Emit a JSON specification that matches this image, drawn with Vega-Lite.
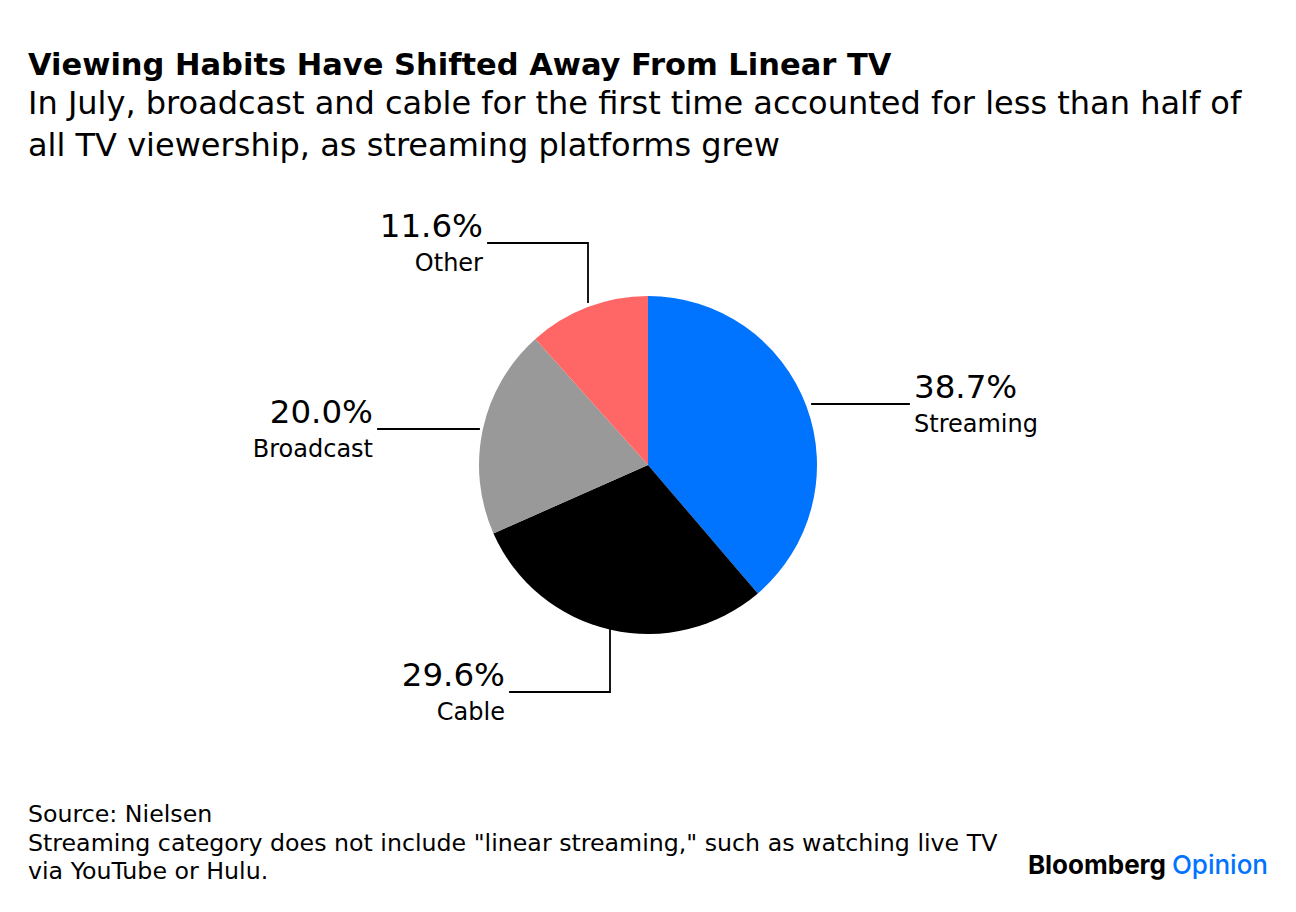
{
  "$schema": "https://vega.github.io/schema/vega-lite/v6.json",
  "width": 1240,
  "height": 722,
  "autosize": {"type": "none"},
  "padding": {"left": 28, "right": 28, "top": 190, "bottom": 0},
  "background": "white",
  "config": {"view": {"stroke": null}, "font": "DejaVu Sans"},
  "title": {
    "text": "Viewing Habits Have Shifted Away From Linear TV",
    "subtitle": ["In July, broadcast and cable for the first time accounted for less than half of", "all TV viewership, as streaming platforms grew"],
    "anchor": "start",
    "frame": "group",
    "font": "DejaVu Sans",
    "fontSize": 30.5,
    "fontWeight": "bold",
    "color": "#000000",
    "subtitleFont": "DejaVu Sans",
    "subtitleFontSize": 32,
    "subtitleColor": "#000000",
    "subtitleLineHeight": 42,
    "subtitlePadding": 8,
    "offset": 28
  },
  "datasets": {
    "shares": [
      {"category": "Streaming", "rank": 1, "share": 0.387},
      {"category": "Cable", "rank": 2, "share": 0.296},
      {"category": "Broadcast", "rank": 3, "share": 0.2},
      {"category": "Other", "rank": 4, "share": 0.116}
    ],
    "leaders": [
      {"category": "Streaming", "step": 1, "x": 164, "y": -61},
      {"category": "Streaming", "step": 2, "x": 261, "y": -61},
      {"category": "Broadcast", "step": 1, "x": -169, "y": -36},
      {"category": "Broadcast", "step": 2, "x": -270, "y": -36},
      {"category": "Cable", "step": 1, "x": -38, "y": 165},
      {"category": "Cable", "step": 2, "x": -38, "y": 227},
      {"category": "Cable", "step": 3, "x": -138, "y": 227},
      {"category": "Other", "step": 1, "x": -60, "y": -163},
      {"category": "Other", "step": 2, "x": -60, "y": -222},
      {"category": "Other", "step": 3, "x": -160, "y": -222}
    ],
    "labels": [
      {"category": "Streaming", "share": 0.387, "side": "right", "x": 261, "y": -61},
      {"category": "Broadcast", "share": 0.2, "side": "left", "x": -270, "y": -36},
      {"category": "Cable", "share": 0.296, "side": "left", "x": -138, "y": 227},
      {"category": "Other", "share": 0.116, "side": "left", "x": -160, "y": -222}
    ]
  },
  "layer": [
    {
      "data": {"name": "shares"},
      "mark": {"type": "arc", "outerRadius": 169, "stroke": null},
      "encoding": {
        "x": {"datum": 0, "type": "quantitative", "scale": {"domain": [-620, 620], "nice": false, "zero": false}, "axis": null},
        "y": {"datum": 0, "type": "quantitative", "scale": {"domain": [-275, 447], "nice": false, "zero": false, "reverse": true}, "axis": null},
        "theta": {"field": "share", "type": "quantitative", "stack": true},
        "order": {"field": "rank", "type": "quantitative"},
        "color": {
          "field": "category",
          "type": "nominal",
          "scale": {"domain": ["Streaming", "Cable", "Broadcast", "Other"], "range": ["#0073FF", "#000000", "#999999", "#FF6666"]},
          "legend": null
        }
      }
    },
    {
      "data": {"name": "leaders"},
      "mark": {"type": "line", "color": "#000000", "strokeWidth": 1.8, "strokeCap": "square"},
      "encoding": {
        "x": {"field": "x", "type": "quantitative", "scale": {"domain": [-620, 620], "nice": false, "zero": false}, "axis": null},
        "y": {"field": "y", "type": "quantitative", "scale": {"domain": [-275, 447], "nice": false, "zero": false, "reverse": true}, "axis": null},
        "detail": {"field": "category", "type": "nominal"},
        "order": {"field": "step", "type": "quantitative"}
      }
    },
    {
      "data": {"name": "labels"},
      "transform": [{"filter": "datum.side == 'right'"}],
      "mark": {"type": "text", "align": "left", "baseline": "alphabetic", "dx": 5, "dy": -6, "fontSize": 32.5, "color": "#000000"},
      "encoding": {
        "x": {"field": "x", "type": "quantitative", "scale": {"domain": [-620, 620], "nice": false, "zero": false}, "axis": null},
        "y": {"field": "y", "type": "quantitative", "scale": {"domain": [-275, 447], "nice": false, "zero": false, "reverse": true}, "axis": null},
        "text": {"field": "share", "type": "quantitative", "format": ".1%"}
      }
    },
    {
      "data": {"name": "labels"},
      "transform": [{"filter": "datum.side == 'right'"}],
      "mark": {"type": "text", "align": "left", "baseline": "alphabetic", "dx": 5, "dy": 28, "fontSize": 24, "color": "#000000"},
      "encoding": {
        "x": {"field": "x", "type": "quantitative", "scale": {"domain": [-620, 620], "nice": false, "zero": false}, "axis": null},
        "y": {"field": "y", "type": "quantitative", "scale": {"domain": [-275, 447], "nice": false, "zero": false, "reverse": true}, "axis": null},
        "text": {"field": "category", "type": "nominal"}
      }
    },
    {
      "data": {"name": "labels"},
      "transform": [{"filter": "datum.side == 'left'"}],
      "mark": {"type": "text", "align": "right", "baseline": "alphabetic", "dx": -5, "dy": -6, "fontSize": 32.5, "color": "#000000"},
      "encoding": {
        "x": {"field": "x", "type": "quantitative", "scale": {"domain": [-620, 620], "nice": false, "zero": false}, "axis": null},
        "y": {"field": "y", "type": "quantitative", "scale": {"domain": [-275, 447], "nice": false, "zero": false, "reverse": true}, "axis": null},
        "text": {"field": "share", "type": "quantitative", "format": ".1%"}
      }
    },
    {
      "data": {"name": "labels"},
      "transform": [{"filter": "datum.side == 'left'"}],
      "mark": {"type": "text", "align": "right", "baseline": "alphabetic", "dx": -5, "dy": 28, "fontSize": 24, "color": "#000000"},
      "encoding": {
        "x": {"field": "x", "type": "quantitative", "scale": {"domain": [-620, 620], "nice": false, "zero": false}, "axis": null},
        "y": {"field": "y", "type": "quantitative", "scale": {"domain": [-275, 447], "nice": false, "zero": false, "reverse": true}, "axis": null},
        "text": {"field": "category", "type": "nominal"}
      }
    },
    {
      "data": {"values": [{"note": "footer"}]},
      "mark": {"type": "text", "align": "left", "baseline": "alphabetic", "fontSize": 23.7, "lineHeight": 28.5, "color": "#000000"},
      "encoding": {
        "x": {"datum": -620, "type": "quantitative", "scale": {"domain": [-620, 620], "nice": false, "zero": false}, "axis": null},
        "y": {"datum": 357, "type": "quantitative", "scale": {"domain": [-275, 447], "nice": false, "zero": false, "reverse": true}, "axis": null},
        "text": {"value": ["Source: Nielsen", "Streaming category does not include \"linear streaming,\" such as watching live TV", "via YouTube or Hulu."]}
      }
    },
    {
      "data": {"values": [{"note": "brand"}]},
      "mark": {"type": "text", "align": "right", "baseline": "alphabetic", "font": "Inter", "fontSize": 26, "fontWeight": "bold", "color": "#000000"},
      "encoding": {
        "x": {"datum": 518, "type": "quantitative", "scale": {"domain": [-620, 620], "nice": false, "zero": false}, "axis": null},
        "y": {"datum": 409, "type": "quantitative", "scale": {"domain": [-275, 447], "nice": false, "zero": false, "reverse": true}, "axis": null},
        "text": {"value": "Bloomberg"}
      }
    },
    {
      "data": {"values": [{"note": "brand"}]},
      "mark": {"type": "text", "align": "right", "baseline": "alphabetic", "font": "Inter", "fontSize": 26, "fontWeight": 500, "color": "#0073FF"},
      "encoding": {
        "x": {"datum": 620, "type": "quantitative", "scale": {"domain": [-620, 620], "nice": false, "zero": false}, "axis": null},
        "y": {"datum": 409, "type": "quantitative", "scale": {"domain": [-275, 447], "nice": false, "zero": false, "reverse": true}, "axis": null},
        "text": {"value": "Opinion"}
      }
    }
  ]
}
